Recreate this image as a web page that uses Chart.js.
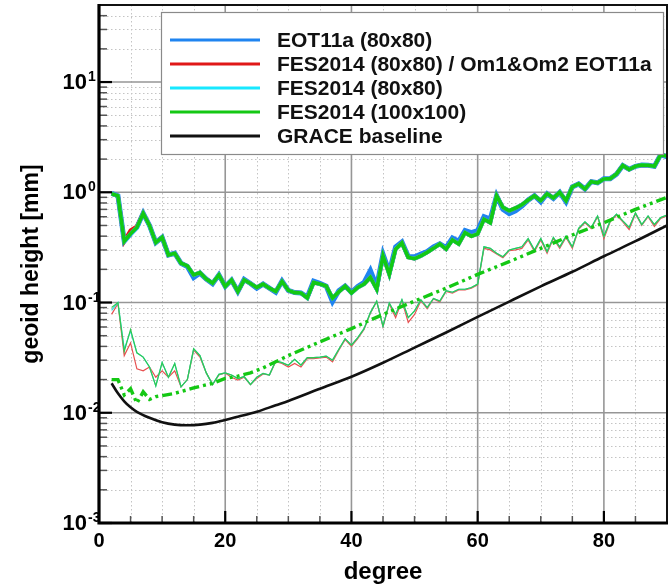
<!DOCTYPE html>
<html><head><meta charset="utf-8">
<script src="https://cdn.jsdelivr.net/npm/chart.js@4.4.1/dist/chart.umd.min.js"></script>
<style>html,body{margin:0;padding:0;background:#fff}</style>
</head><body>
<canvas id="c" width="671" height="584"></canvas>
<script>
// ---- data ----
const degrees = [2,3,4,5,6,7,8,9,10,11,12,13,14,15,16,17,18,19,20,21,22,23,24,25,26,27,28,29,30,31,32,33,34,35,36,37,38,39,40,41,42,43,44,45,46,47,48,49,50,51,52,53,54,55,56,57,58,59,60,61,62,63,64,65,66,67,68,69,70,71,72,73,74,75,76,77,78,79,80,81,82,83,84,85,86,87,88,89,90];

const eot11aThick = [0.98,0.93,0.36,0.42,0.48,0.645,0.50,0.35,0.39,0.27,0.28,0.227,0.212,0.168,0.185,0.163,0.148,0.178,0.14,0.16,0.126,0.162,0.149,0.135,0.147,0.135,0.124,0.157,0.129,0.123,0.122,0.112,0.156,0.149,0.141,0.102,0.128,0.141,0.124,0.14,0.152,0.195,0.14,0.275,0.19,0.32,0.355,0.262,0.26,0.275,0.29,0.32,0.34,0.315,0.385,0.36,0.45,0.43,0.45,0.60,0.57,0.93,0.70,0.64,0.68,0.75,0.85,0.93,0.82,0.97,0.88,1.0,0.82,1.12,1.19,1.07,1.25,1.22,1.33,1.33,1.46,1.75,1.62,1.72,1.77,1.76,1.72,2.2,2.1];
const fesOmThick = [0.97,0.93,0.36,0.45,0.49,0.645,0.50,0.35,0.39,0.27,0.28,0.227,0.215,0.178,0.187,0.163,0.15,0.178,0.14,0.16,0.126,0.16,0.149,0.137,0.147,0.135,0.126,0.155,0.129,0.123,0.122,0.11,0.152,0.147,0.141,0.11,0.125,0.141,0.122,0.137,0.147,0.169,0.132,0.265,0.18,0.305,0.347,0.257,0.25,0.265,0.285,0.31,0.34,0.305,0.37,0.34,0.43,0.40,0.42,0.57,0.53,0.93,0.73,0.68,0.72,0.77,0.85,0.93,0.84,0.97,0.89,1.0,0.84,1.12,1.19,1.07,1.25,1.22,1.32,1.33,1.47,1.75,1.61,1.72,1.77,1.76,1.72,2.2,2.12];
const fes80Thick = [0.97,0.93,0.36,0.42,0.48,0.645,0.50,0.35,0.39,0.27,0.28,0.227,0.215,0.178,0.187,0.163,0.15,0.178,0.14,0.16,0.126,0.16,0.149,0.137,0.147,0.135,0.126,0.155,0.129,0.123,0.122,0.11,0.152,0.147,0.141,0.11,0.125,0.141,0.122,0.137,0.147,0.169,0.132,0.265,0.18,0.305,0.347,0.257,0.25,0.265,0.285,0.31,0.34,0.305,0.37,0.34,0.43,0.40,0.42,0.57,0.53,0.93,0.73,0.68,0.72,0.77,0.85,0.93,0.84,0.97,0.89,1.0,0.84,1.12,1.19,1.07,1.25,1.22,1.32,1.33,1.47,1.75,1.61,1.72,1.77,1.76,1.72,2.2,2.12];
const fes100Thick = [0.97,0.93,0.36,0.42,0.48,0.645,0.50,0.35,0.39,0.27,0.28,0.227,0.215,0.178,0.187,0.163,0.15,0.178,0.14,0.16,0.126,0.16,0.149,0.137,0.147,0.135,0.126,0.155,0.129,0.123,0.122,0.11,0.152,0.147,0.141,0.11,0.125,0.141,0.122,0.137,0.147,0.169,0.132,0.265,0.18,0.305,0.347,0.257,0.25,0.265,0.285,0.31,0.34,0.305,0.37,0.34,0.43,0.40,0.42,0.57,0.53,0.93,0.73,0.68,0.72,0.77,0.85,0.93,0.84,0.97,0.89,1.0,0.84,1.12,1.19,1.07,1.25,1.22,1.32,1.33,1.47,1.75,1.61,1.72,1.77,1.76,1.72,2.2,2.12];

const fesOmThin = [0.078,0.098,0.033,0.043,0.025,0.024,0.026,0.021,0.024,0.021,0.024,0.0172,0.020,0.037,0.032,0.023,0.018,0.022,0.023,0.021,0.0198,0.021,0.018,0.0205,0.0225,0.022,0.029,0.028,0.026,0.028,0.026,0.031,0.031,0.0315,0.032,0.029,0.037,0.046,0.040,0.047,0.057,0.080,0.102,0.060,0.097,0.073,0.104,0.066,0.078,0.104,0.088,0.108,0.101,0.126,0.122,0.130,0.130,0.135,0.145,0.31,0.30,0.275,0.255,0.295,0.30,0.31,0.37,0.29,0.37,0.28,0.38,0.31,0.39,0.31,0.46,0.53,0.47,0.60,0.38,0.54,0.62,0.54,0.46,0.64,0.50,0.60,0.49,0.58,0.61];
const fes80Thin = [0.085,0.10,0.038,0.055,0.035,0.032,0.026,0.0175,0.0285,0.021,0.028,0.0172,0.020,0.038,0.033,0.023,0.018,0.0223,0.023,0.022,0.0204,0.0213,0.018,0.021,0.0228,0.022,0.0295,0.0285,0.027,0.0306,0.027,0.0316,0.0316,0.032,0.0327,0.030,0.0377,0.047,0.041,0.048,0.058,0.081,0.103,0.061,0.099,0.078,0.106,0.073,0.084,0.106,0.090,0.109,0.103,0.128,0.124,0.132,0.132,0.137,0.147,0.32,0.31,0.28,0.26,0.30,0.31,0.32,0.38,0.30,0.38,0.29,0.39,0.32,0.40,0.32,0.47,0.54,0.48,0.61,0.40,0.55,0.635,0.55,0.48,0.65,0.51,0.61,0.51,0.59,0.62];
const fes100Thin = [0.090,0.10,0.036,0.057,0.035,0.032,0.026,0.0175,0.0285,0.021,0.028,0.0172,0.020,0.038,0.033,0.023,0.018,0.0223,0.023,0.022,0.0204,0.0213,0.018,0.021,0.0228,0.022,0.0295,0.0285,0.027,0.0306,0.027,0.0316,0.0316,0.032,0.0327,0.030,0.0377,0.047,0.041,0.048,0.058,0.081,0.103,0.061,0.099,0.078,0.106,0.073,0.084,0.106,0.090,0.109,0.103,0.128,0.124,0.132,0.132,0.137,0.147,0.32,0.31,0.28,0.26,0.30,0.31,0.32,0.38,0.30,0.38,0.29,0.39,0.32,0.40,0.32,0.47,0.54,0.48,0.61,0.40,0.55,0.635,0.55,0.48,0.65,0.51,0.61,0.51,0.59,0.62];

const dashDegrees = [2,3,4,5,6,7,8,9,10,12,15,18,20,22,24,26,28,30,35,40,45,50,55,60,65,70,75,80,85,90];
const dashValues  = [0.020,0.020,0.0145,0.0165,0.0122,0.0155,0.0132,0.014,0.0143,0.015,0.0168,0.0185,0.0205,0.0215,0.023,0.0255,0.029,0.033,0.044,0.058,0.078,0.103,0.135,0.18,0.235,0.31,0.41,0.53,0.70,0.90];

const graceDegrees = [2,3,4,5,6,8,10,12,14,16,18,20,22,25,28,30,35,40,45,50,55,60,65,70,75,80,85,90];
const graceValues  = [0.0185,0.0150,0.0127,0.0112,0.0102,0.0090,0.0082,0.0078,0.0077,0.0078,0.0081,0.0086,0.0092,0.0102,0.0117,0.0128,0.0165,0.0212,0.0284,0.039,0.0535,0.074,0.102,0.14,0.19,0.263,0.36,0.50];

const legendLabels = ['EOT11a (80x80)','FES2014 (80x80) / Om1&Om2 EOT11a','FES2014 (80x80)','FES2014 (100x100)','GRACE baseline'];
const xTickValues = [0,20,40,60,80];
const xTickLabels = ['0','20','40','60','80'];
const yTickValues = [0.001,0.01,0.1,1,10];
const yTickBase = '10';
const yTickExponents = ['-3','-2','-1','0','1'];

// ---- styling ----
const BLUE='#1f84f0', RED='#e01818', CYAN='#18e8ff', GREEN='#14c814', BLACK='#111111';
const FONT = "'Liberation Sans', Arial, Helvetica, sans-serif";

const pts = (xs, ys) => xs.map((d,i)=>({x:d, y:ys[i]}));
const thick = (label,color,data,order,w) => ({label, data:pts(degrees,data), borderColor:color, backgroundColor:color, borderWidth:w, pointRadius:0, order, fill:false, tension:0});
const thin = (color,data,order) => ({label:'', data:pts(degrees,data), borderColor:color, borderWidth:1.2, pointRadius:0, order, fill:false, tension:0});

const datasets = [
  thick(legendLabels[0], BLUE, eot11aThick, 6, 5),
  thick(legendLabels[1], RED, fesOmThick, 5, 4),
  thick(legendLabels[2], CYAN, fes80Thick, 4, 4),
  thick(legendLabels[3], GREEN, fes100Thick, 3, 3.6),
  {label:legendLabels[4], data:pts(graceDegrees,graceValues), borderColor:BLACK, borderWidth:2.6, pointRadius:0, order:1, cubicInterpolationMode:'monotone', fill:false},
  thin('#e85050', fesOmThin, 9),
  thin('#30e0e0', fes80Thin, 8),
  thin('#30c850', fes100Thin, 7),
  {label:'', data:pts(dashDegrees,dashValues), borderColor:GREEN, borderWidth:3.4, borderDash:[10,4,3,4,3,4], pointRadius:0, order:2, fill:false, tension:0}
];

const yMinor=[], yMajor=[];
[0.001,0.01,0.1,1,10].forEach(d=>{ yMajor.push(d); for(let m=2;m<=9;m++){ const v=m*d; if(v<=50) yMinor.push(v);} });
const xMajor=[20,40,60,80], xMinor=[5,10,15,25,30,35,45,50,55,65,70,75,85];

const decor = {
  id:'decor',
  beforeDatasetsDraw(chart){
    const {ctx, chartArea:a, scales:{x,y}} = chart;
    ctx.save();
    ctx.beginPath(); ctx.rect(a.left,a.top,a.right-a.left,a.bottom-a.top); ctx.clip();
    ctx.lineWidth=1; ctx.strokeStyle='#c4c4c4'; ctx.setLineDash([1.5,2.5]);
    yMinor.forEach(v=>{ const p=Math.round(y.getPixelForValue(v))+0.5; ctx.beginPath(); ctx.moveTo(a.left,p); ctx.lineTo(a.right,p); ctx.stroke(); });
    xMinor.forEach(v=>{ const p=Math.round(x.getPixelForValue(v))+0.5; ctx.beginPath(); ctx.moveTo(p,a.top); ctx.lineTo(p,a.bottom); ctx.stroke(); });
    ctx.setLineDash([]); ctx.strokeStyle='#969696'; ctx.lineWidth=1.6;
    yMajor.forEach(v=>{ const p=y.getPixelForValue(v); ctx.beginPath(); ctx.moveTo(a.left,p); ctx.lineTo(a.right,p); ctx.stroke(); });
    xMajor.forEach(v=>{ const p=x.getPixelForValue(v); ctx.beginPath(); ctx.moveTo(p,a.top); ctx.lineTo(p,a.bottom); ctx.stroke(); });
    ctx.restore();
  },
  afterDatasetsDraw(chart){
    const {ctx, chartArea:a, scales:{x,y}} = chart;
    ctx.save();
    ctx.strokeStyle='#555'; ctx.lineWidth=1.5;
    yMinor.forEach(v=>{ const p=y.getPixelForValue(v); ctx.beginPath(); ctx.moveTo(a.left,p); ctx.lineTo(a.left+8,p); ctx.stroke(); });
    xMinor.forEach(v=>{ const p=x.getPixelForValue(v); ctx.beginPath(); ctx.moveTo(p,a.bottom); ctx.lineTo(p,a.bottom-7); ctx.stroke(); });
    ctx.strokeStyle='#000'; ctx.lineWidth=2.2;
    yMajor.forEach(v=>{ const p=y.getPixelForValue(v); ctx.beginPath(); ctx.moveTo(a.left,p); ctx.lineTo(a.left+13,p); ctx.stroke(); });
    xMajor.forEach(v=>{ const p=x.getPixelForValue(v); ctx.beginPath(); ctx.moveTo(p,a.bottom); ctx.lineTo(p,a.bottom-12); ctx.stroke(); });
    ctx.strokeStyle='#111'; ctx.lineWidth=2;
    ctx.strokeRect(a.left,a.top,a.right-a.left,a.bottom-a.top);
    ctx.lineWidth=3.2; ctx.strokeStyle='#000';
    ctx.beginPath(); ctx.moveTo(a.left,a.top-1); ctx.lineTo(a.left,a.bottom); ctx.lineTo(a.right+1,a.bottom); ctx.stroke();
    ctx.restore();
  },
  afterDraw(chart){
    const {ctx, scales:{y}} = chart;
    ctx.save();
    ctx.fillStyle='#000';
    yTickValues.forEach((v,i)=>{
      const p = y.getPixelForValue(v);
      ctx.font = "bold 22px "+FONT; ctx.textAlign='right'; ctx.textBaseline='middle';
      ctx.fillText(yTickBase, 87, p+1);
      ctx.font = "bold 14px "+FONT; ctx.textAlign='left'; ctx.textBaseline='alphabetic';
      ctx.fillText(yTickExponents[i], 88, p-1);
    });
    const bx=161, by=12, bw=502, bh=142;
    ctx.fillStyle='#fff'; ctx.fillRect(bx,by,bw,bh);
    ctx.strokeStyle='#8a8a8a'; ctx.lineWidth=1.2; ctx.strokeRect(bx+0.5,by+0.5,bw,bh);
    ctx.font = "bold 21px "+FONT; ctx.textAlign='left'; ctx.textBaseline='middle'; ctx.fillStyle='#111';
    for(let i=0;i<5;i++){
      const ds = chart.data.datasets[i];
      const yy = 40 + i*24;
      ctx.strokeStyle = ds.borderColor; ctx.lineWidth=3;
      ctx.beginPath(); ctx.moveTo(170,yy); ctx.lineTo(260,yy); ctx.stroke();
      ctx.fillText(ds.label, 277, yy+1);
    }
    ctx.restore();
  }
};

new Chart(document.getElementById('c'), {
  type:'line',
  data:{datasets},
  options:{
    responsive:false, animation:false, devicePixelRatio:1,
    layout:{padding:{top:5,right:4,left:0,bottom:0}},
    plugins:{legend:{display:false}, tooltip:{enabled:false}},
    scales:{
      x:{type:'linear', min:0, max:90,
        grid:{display:false, drawTicks:false}, border:{display:false},
        afterBuildTicks:s=>{ s.ticks = xTickValues.map(v=>({value:v})); },
        afterFit:s=>{ s.height=61; s.paddingLeft=0; s.paddingRight=0; },
        ticks:{autoSkip:false, maxRotation:0, padding:6, color:'#000', font:{family:FONT, size:20, weight:'bold'},
          callback:(v)=>{ const i=xTickValues.indexOf(v); return i>=0? xTickLabels[i] : ''; }},
        title:{display:true, text:'degree', color:'#000', padding:0, font:{family:FONT, size:24, weight:'bold', lineHeight:1}}
      },
      y:{type:'logarithmic', min:0.001, max:50,
        grid:{display:false, drawTicks:false}, border:{display:false},
        afterBuildTicks:s=>{ s.ticks = yTickValues.map(v=>({value:v})); },
        afterFit:s=>{ s.width=99; s.paddingTop=0; s.paddingBottom=0; },
        ticks:{display:false},
        title:{display:true, text:'geoid height [mm]', color:'#000', padding:{top:18,bottom:0}, font:{family:FONT, size:23, weight:'bold'}}
      }
    }
  },
  plugins:[decor]
});
</script>
</body></html>
